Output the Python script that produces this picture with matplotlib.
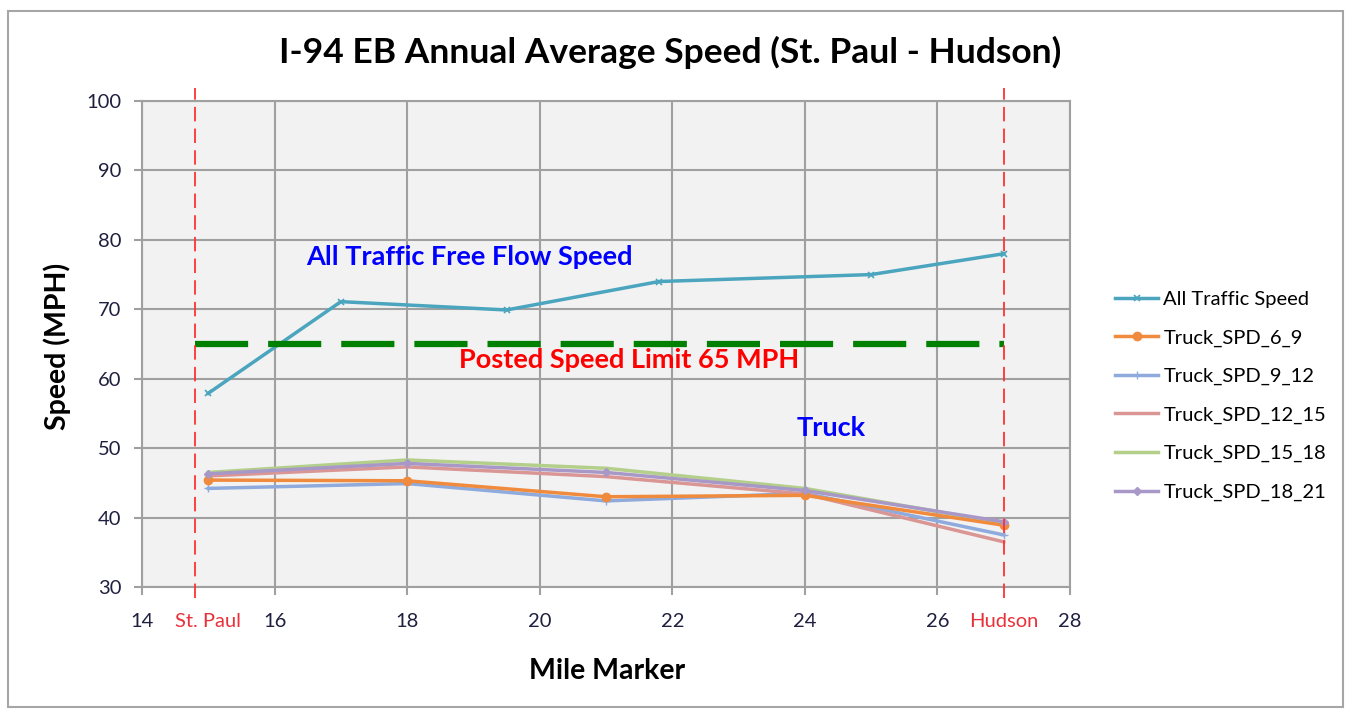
import matplotlib
matplotlib.use('Agg')
import matplotlib.pyplot as plt
from matplotlib.patches import Rectangle

# Data
all_miles = [15.0, 17.0, 19.5, 21.8, 25.0, 27.0]
all_speed = [57.9, 71.1, 69.9, 74.0, 75.0, 78.0]

truck_miles = [15, 18, 21, 24, 27]
truck_6_9 = [45.4, 45.3, 43.0, 43.2, 38.9]
truck_9_12 = [44.2, 44.9, 42.4, 43.5, 37.5]
truck_12_15 = [46.0, 47.3, 45.9, 43.4, 36.5]
truck_15_18 = [46.5, 48.3, 47.1, 44.2, 39.2]
truck_18_21 = [46.3, 47.8, 46.5, 43.9, 39.4]

speed_limit = 65
st_paul_mile = 14.8
hudson_mile = 27.0

x_ticks = [14, 16, 18, 20, 22, 24, 26, 28]
y_ticks = [30, 40, 50, 60, 70, 80, 90, 100]

plt.rcParams['font.family'] = ['Lato', 'DejaVu Sans']

fig = plt.figure(figsize=(13.48, 7.11), dpi=100)
ax = fig.add_axes([142 / 1348, 1 - 587 / 711, (1070 - 142) / 1348, (587 - 101) / 711])
ax.set_facecolor('#F2F2F2')

# chart border
fig.patches.append(Rectangle((8 / 1348, 4 / 711), 1335 / 1348, 696 / 711,
                             transform=fig.transFigure, fill=False,
                             edgecolor='#A6A6A6', lw=1.5))

ax.plot(all_miles, all_speed, color='#4BA5BE', lw=2.5, marker='x', ms=5,
        mew=1.2, label='All Traffic Speed', zorder=5)
ax.plot(truck_miles, truck_6_9, color='#F08A3C', lw=2.5, marker='o', ms=6,
        label='Truck_SPD_6_9', zorder=4)
ax.plot(truck_miles, truck_9_12, color='#8FAADC', lw=2.5, marker='+', ms=6,
        label='Truck_SPD_9_12', zorder=3)
ax.plot(truck_miles, truck_12_15, color='#D99694', lw=2.5,
        label='Truck_SPD_12_15', zorder=3)
ax.plot(truck_miles, truck_15_18, color='#B3CF8A', lw=2.5,
        label='Truck_SPD_15_18', zorder=3)
ax.plot(truck_miles, truck_18_21, color='#A898C8', lw=2.5, marker='D', ms=4,
        label='Truck_SPD_18_21', zorder=4)

# posted speed limit
ax.plot([st_paul_mile, hudson_mile], [speed_limit, speed_limit], color='#008000',
        lw=4.5, dashes=(8.5, 3.2), zorder=6)

# St. Paul / Hudson markers
for m in (st_paul_mile, hudson_mile):
    ax.plot([m, m], [28.4, 101.9], color='#FF3333', lw=1.3, dashes=(8, 4),
            clip_on=False, zorder=7)

ax.set_xlim(14, 28)
ax.set_ylim(30, 100)
ax.set_xticks(x_ticks)
ax.set_yticks(y_ticks)
ax.grid(True, color='#A0A0A0', lw=1.5)
ax.set_axisbelow(True)
for s in ax.spines.values():
    s.set_color('#A0A0A0')
    s.set_linewidth(1.5)
ax.tick_params(axis='both', colors='#A0A0A0', length=6, width=1.5,
               labelcolor='#1F1F3F', labelsize=14.5)
ax.tick_params(axis='x', pad=13)
ax.tick_params(axis='y', pad=9)

for xm, name in ((15.0, 'St. Paul'), (27.0, 'Hudson')):
    ax.text(xm, -0.0715, name, transform=ax.get_xaxis_transform(), color='#E8313A',
            fontsize=14.5, ha='center', va='center')

fig.text(670 / 1348, 1 - 52 / 711, 'I-94 EB Annual Average Speed (St. Paul - Hudson)',
         fontsize=25.5, fontweight='bold', ha='center', va='center')
fig.text(607 / 1348, 1 - 671 / 711, 'Mile Marker', fontsize=20.5,
         fontweight='bold', ha='center', va='center')
fig.text(57 / 1348, 1 - 346 / 711, 'Speed (MPH)', fontsize=20.5,
         fontweight='bold', ha='center', va='center', rotation=90)

ax.text(18.94, 77.5, 'All Traffic Free Flow Speed', color='#0000FF', fontsize=19.5,
        fontweight='bold', ha='center', va='center')
ax.text(21.35, 62.7, 'Posted Speed Limit 65 MPH', color='#FF0000', fontsize=19.5,
        fontweight='bold', ha='center', va='center')
ax.text(24.4, 52.9, 'Truck', color='#0000FF', fontsize=19.5,
        fontweight='bold', ha='center', va='center')

fig.legend(loc='center left', bbox_to_anchor=(1115 / 1348, 1 - 396 / 711),
           frameon=False, fontsize=14.5, handlelength=2.15, labelspacing=1.05,
           handletextpad=0.25, borderpad=0, borderaxespad=0)

fig.savefig('out.png', dpi=100, facecolor='white')
